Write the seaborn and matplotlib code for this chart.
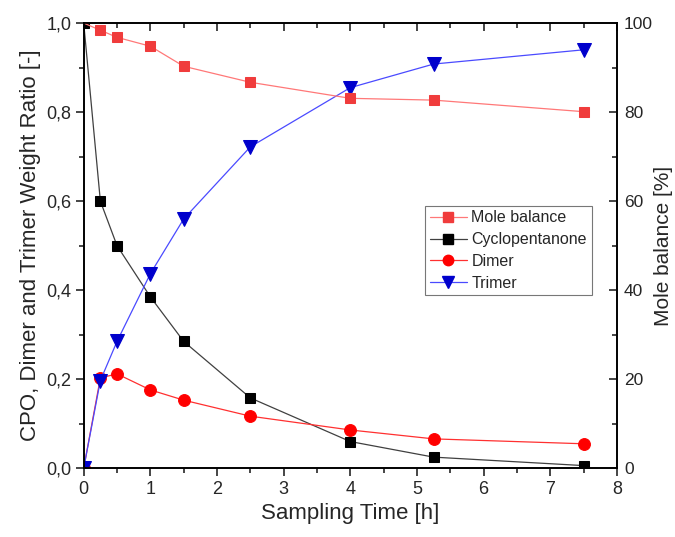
import matplotlib
matplotlib.use("Agg")
import matplotlib.pyplot as plt
import seaborn as sns
import numpy as np
from matplotlib.ticker import MultipleLocator, FuncFormatter
from matplotlib.lines import Line2D

time_h = [0, 0.25, 0.5, 1, 1.5, 2.5, 4, 5.25, 7.5]
cyclopentanone = [1.0, 0.60, 0.50, 0.385, 0.285, 0.158, 0.06, 0.025, 0.006]
dimer = [0.0, 0.203, 0.212, 0.176, 0.153, 0.117, 0.086, 0.066, 0.055]
trimer = [0.0, 0.197, 0.285, 0.437, 0.56, 0.722, 0.855, 0.908, 0.94]
mole_balance = [100, 98.4, 96.8, 94.8, 90.3, 86.7, 83.1, 82.7, 80.1]

sns.set_style("ticks")
plt.rcParams['font.family'] = ['Liberation Sans', 'DejaVu Sans']

fig = plt.figure(figsize=(6.75, 5.37), dpi=100)
ax = fig.add_axes([0.124, 0.128, 0.790, 0.829])
ax2 = ax.twinx()

sns.lineplot(x=time_h, y=cyclopentanone, ax=ax, color='#404040', linewidth=0.9,
             marker='s', markersize=7, markerfacecolor='black', markeredgecolor='black')
sns.lineplot(x=time_h, y=dimer, ax=ax, color='#FF3030', linewidth=0.9,
             marker='o', markersize=8.5, markerfacecolor='#FF0000', markeredgecolor='#FF0000')
sns.lineplot(x=time_h, y=trimer, ax=ax, color='#4A4AFF', linewidth=0.9,
             marker='v', markersize=9.5, markerfacecolor='#0000CC', markeredgecolor='#0000CC')
sns.lineplot(x=time_h, y=mole_balance, ax=ax2, color='#FF7878', linewidth=0.9,
             marker='s', markersize=7.5, markerfacecolor='#F03C3C', markeredgecolor='#F03C3C',
             markevery=list(range(1, len(time_h))))

ax.set_xlim(0, 8)
ax.set_ylim(0, 1.0)
ax2.set_ylim(0, 100)

comma = FuncFormatter(lambda v, p: f"{v:.1f}".replace('.', ','))
ax.yaxis.set_major_locator(MultipleLocator(0.2))
ax.yaxis.set_minor_locator(MultipleLocator(0.1))
ax.yaxis.set_major_formatter(comma)
ax.xaxis.set_major_locator(MultipleLocator(1))
ax.xaxis.set_minor_locator(MultipleLocator(0.5))
ax2.yaxis.set_major_locator(MultipleLocator(20))
ax2.yaxis.set_minor_locator(MultipleLocator(10))

ax.tick_params(axis='both', which='major', labelsize=13, length=6, width=1.2, direction='out', pad=3)
ax.tick_params(axis='both', which='minor', length=3.5, width=1.2, direction='out')
ax.tick_params(axis='x', which='both', top=True, labeltop=False)
ax2.tick_params(axis='y', which='major', labelsize=12.5, length=6, width=1.2, direction='in', pad=5)
ax2.tick_params(axis='y', which='minor', length=3.5, width=1.2, direction='in')

# top ticks inward
for t in ax.xaxis.get_major_ticks() + ax.xaxis.get_minor_ticks():
    t.tick2line.set_marker(3)  # TICKDOWN

for a in (ax, ax2):
    for s in a.spines.values():
        s.set_linewidth(1.2)
        s.set_color('black')

ax.set_xlabel("Sampling Time [h]", fontsize=16, labelpad=4)
ax.set_ylabel("CPO, Dimer and Trimer Weight Ratio [-]", fontsize=16, labelpad=4)
ax2.set_ylabel("Mole balance [%]", fontsize=15, labelpad=1)

handles = [
    Line2D([], [], color='#FF7878', lw=0.9, marker='s', ms=7, mfc='#F03C3C', mec='#F03C3C'),
    Line2D([], [], color='#404040', lw=0.9, marker='s', ms=6.5, mfc='black', mec='black'),
    Line2D([], [], color='#FF3030', lw=0.9, marker='o', ms=7.5, mfc='#FF0000', mec='#FF0000'),
    Line2D([], [], color='#4A4AFF', lw=0.9, marker='v', ms=8.5, mfc='#0000CC', mec='#0000CC'),
]
labels = ["Mole balance", "Cyclopentanone", "Dimer", "Trimer"]
leg = ax2.legend(handles, labels, loc='upper left', bbox_to_anchor=(0.64, 0.59),
                 frameon=True, fancybox=False, edgecolor='#555555', fontsize=11.5,
                 handlelength=2.3, borderpad=0.3, labelspacing=0.42, handletextpad=0.3,
                 borderaxespad=0)
leg.get_frame().set_linewidth(0.8)

fig.savefig("out.png", dpi=100)
